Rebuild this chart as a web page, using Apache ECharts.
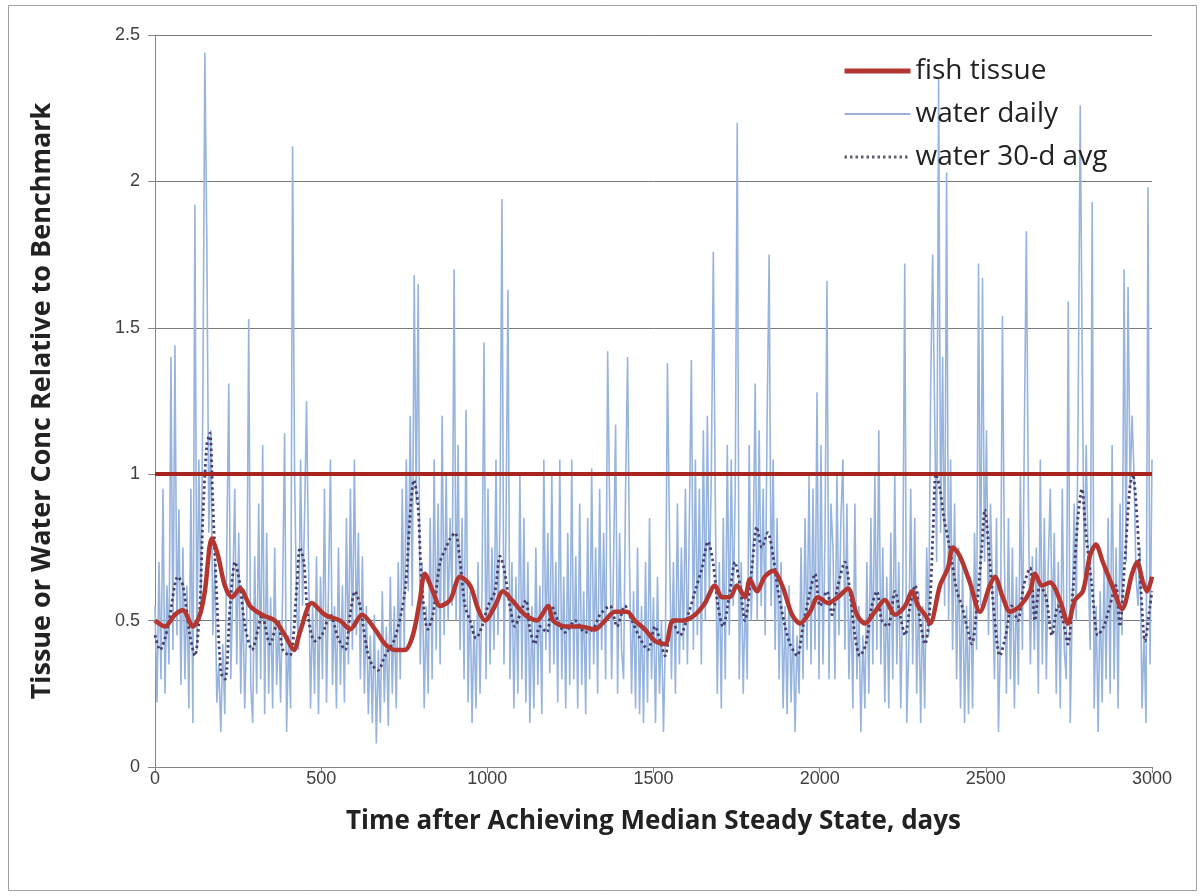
<!DOCTYPE html>
<html>
<head>
<meta charset="UTF-8">
<title>Tissue vs water</title>
<script type="text/javascript" src="https://cdn.jsdelivr.net/npm/echarts@6/dist/echarts.min.js"></script>
<style>
  body{margin:0;background:#fff}
</style>
</head>
<body>
<div id="main" style="width:1202px;height:896px"></div>
<script type="text/javascript">
// water daily, one value every 6 days (0..3000)
var dailyStep = 6;
var waterDaily = [
  0.55,0.22,0.70,0.30,0.95,0.25,0.62,0.35,1.40,0.40,
  1.44,0.45,0.88,0.28,0.75,0.30,0.62,0.20,0.95,0.15,
  1.92,0.40,1.05,0.55,1.25,2.44,1.79,0.80,1.15,0.45,
  0.70,0.22,0.35,0.12,0.42,0.18,0.75,1.31,0.30,0.60,
  0.95,0.35,0.80,0.25,0.60,0.20,0.50,1.53,0.28,0.15,
  0.72,0.25,0.90,0.30,1.10,0.18,0.80,0.25,0.58,0.20,
  0.75,0.28,0.50,0.22,0.60,1.14,0.12,0.45,0.20,2.12,
  1.00,0.55,0.40,1.05,0.55,0.85,1.25,0.70,0.20,0.55,
  0.25,0.72,0.18,0.65,0.30,0.95,0.22,0.60,1.05,0.28,
  0.55,0.20,0.75,0.28,0.62,0.22,0.85,0.35,0.95,0.40,
  1.05,0.45,0.80,0.30,0.72,0.25,0.55,0.18,0.45,0.15,
  0.52,0.08,0.40,0.15,0.60,0.22,0.48,0.14,0.65,0.25,
  0.55,0.20,0.70,0.30,0.95,0.40,1.05,0.60,1.20,0.55,
  1.68,0.90,1.65,0.35,0.70,0.20,0.55,0.25,0.85,0.30,
  1.05,0.40,0.90,0.35,1.20,0.45,1.00,0.50,0.85,0.55,
  1.70,0.50,1.10,0.40,0.85,0.30,1.22,0.22,0.60,0.15,
  0.50,0.20,0.70,0.25,0.60,1.45,0.30,0.95,0.35,0.75,
  0.40,1.05,0.45,0.85,1.94,0.35,0.80,1.63,0.30,0.70,
  0.20,0.65,0.25,1.00,0.30,0.85,0.22,0.70,0.15,0.55,
  0.20,0.75,0.28,0.62,0.18,1.05,0.40,0.80,0.32,1.00,
  0.35,0.70,0.22,1.05,0.30,0.65,0.20,0.80,0.28,1.05,
  0.30,0.72,0.20,0.90,0.28,0.60,0.18,0.85,0.30,1.02,
  0.35,0.75,0.25,0.95,0.40,0.80,0.30,1.42,0.90,0.30,
  0.72,1.17,0.25,0.80,0.40,0.30,0.95,1.40,0.68,0.25,
  0.60,0.20,0.75,0.18,0.55,0.15,0.70,0.22,0.85,0.30,
  0.58,0.15,0.65,0.25,0.50,0.12,0.45,1.38,0.80,0.30,
  0.70,0.25,0.90,0.35,0.75,0.40,0.95,0.35,0.85,1.39,
  0.40,1.05,0.45,0.95,0.35,1.15,0.50,1.20,0.60,1.00,
  1.76,0.90,0.25,0.70,0.20,0.85,0.30,1.10,0.45,1.05,
  0.55,0.95,2.20,0.30,0.70,0.25,0.60,0.30,1.10,0.50,
  0.75,1.31,0.50,1.15,0.55,0.95,0.45,1.20,1.75,0.55,
  1.05,0.40,0.85,0.30,0.70,0.20,0.55,0.18,0.62,0.22,
  0.50,0.12,0.45,0.25,0.75,0.30,0.85,0.40,1.00,0.35,
  0.95,0.40,1.28,0.30,1.10,0.35,0.78,1.66,0.30,0.90,
  0.75,0.30,1.00,0.45,0.85,1.05,0.40,0.90,0.30,0.60,
  0.20,0.90,0.30,0.55,0.12,0.45,0.20,0.70,0.25,0.85,
  0.35,1.00,0.40,1.15,0.35,0.75,0.22,0.65,0.20,0.80,
  0.30,1.00,0.35,0.70,0.20,0.60,1.72,0.15,0.40,0.95,
  0.35,0.85,0.25,0.60,0.15,0.55,0.20,0.75,0.45,1.30,
  1.75,1.20,0.70,2.35,0.80,1.40,0.55,2.03,0.50,1.05,
  0.40,0.90,0.30,0.75,0.20,0.70,0.15,0.55,0.18,0.65,
  0.20,0.80,0.40,1.72,0.55,1.67,0.70,1.15,0.45,0.90,
  0.60,0.30,0.85,0.12,0.45,1.54,0.70,0.25,0.85,0.30,
  0.75,0.20,0.65,0.28,1.00,0.40,1.15,1.83,0.90,0.35,
  0.72,0.40,0.75,0.25,1.05,0.35,0.85,0.30,0.70,0.95,
  0.45,0.80,0.25,0.70,0.20,0.95,0.40,0.30,1.59,0.15,
  0.55,0.90,0.50,1.25,2.26,1.40,0.65,1.10,0.70,0.40,
  1.93,0.20,0.55,0.12,0.60,0.22,0.70,0.30,0.85,0.25,
  1.10,0.30,0.75,0.20,0.90,0.45,1.70,0.70,1.64,0.95,
  1.20,1.00,0.65,0.55,0.75,0.20,0.45,0.15,1.98,0.35,
  1.05
];

var avgDays = [0,15,39,69,84,105,120,135,144,156,
  165,174,187,199,211,226,241,256,271,292,
  310,322,346,370,385,406,427,436,448,460,
  481,502,527,551,572,587,602,617,638,653,
  671,692,722,752,767,779,791,803,821,836,
  858,876,888,903,918,933,948,966,984,1002,
  1023,1038,1050,1068,1083,1098,1116,1128,1143,1158,
  1179,1194,1212,1234,1264,1294,1318,1339,1369,1390,
  1414,1435,1459,1483,1505,1520,1535,1556,1580,1604,
  1625,1646,1664,1679,1694,1709,1730,1745,1760,1775,
  1796,1811,1826,1844,1860,1875,1896,1911,1932,1950,
  1971,1986,2001,2022,2037,2055,2076,2091,2106,2121,
  2139,2157,2172,2187,2205,2227,2242,2257,2272,2287,
  2302,2317,2329,2341,2350,2362,2374,2386,2398,2413,
  2428,2443,2458,2473,2488,2497,2512,2527,2542,2560,
  2578,2596,2614,2633,2648,2663,2681,2699,2717,2732,
  2747,2762,2777,2789,2801,2819,2837,2855,2873,2891,
  2903,2918,2933,2942,2955,2967,2979,2994,3000];
var avgVals = [0.45,0.40,0.48,0.65,0.62,0.45,0.38,0.55,0.85,1.10,
  1.14,0.90,0.55,0.32,0.30,0.55,0.70,0.62,0.48,0.40,
  0.47,0.52,0.42,0.50,0.40,0.38,0.62,0.75,0.70,0.52,
  0.43,0.45,0.52,0.44,0.40,0.52,0.60,0.55,0.40,0.35,
  0.33,0.38,0.44,0.60,0.85,0.98,0.90,0.62,0.47,0.52,
  0.70,0.75,0.78,0.80,0.70,0.55,0.50,0.44,0.48,0.55,
  0.60,0.72,0.68,0.55,0.48,0.52,0.57,0.47,0.42,0.48,
  0.46,0.55,0.50,0.46,0.50,0.46,0.47,0.52,0.55,0.48,
  0.55,0.50,0.44,0.40,0.48,0.43,0.38,0.50,0.45,0.52,
  0.60,0.68,0.77,0.70,0.55,0.48,0.60,0.70,0.62,0.50,
  0.68,0.82,0.75,0.80,0.72,0.60,0.48,0.42,0.38,0.48,
  0.60,0.66,0.55,0.60,0.52,0.62,0.70,0.60,0.45,0.38,
  0.42,0.55,0.60,0.50,0.48,0.60,0.52,0.45,0.55,0.62,
  0.50,0.42,0.50,0.80,1.00,0.95,0.85,0.78,0.70,0.60,
  0.55,0.48,0.42,0.55,0.75,0.88,0.70,0.50,0.38,0.45,
  0.55,0.50,0.62,0.68,0.50,0.62,0.58,0.45,0.55,0.50,
  0.42,0.60,0.85,0.95,0.80,0.62,0.45,0.48,0.55,0.62,
  0.48,0.70,0.95,1.00,0.85,0.60,0.43,0.55,0.60];

var fishDays = [0,30,60,84,114,135,150,171,190,210,
  232,256,286,322,361,391,418,436,472,511,
  557,587,623,662,692,722,752,776,797,812,
  836,858,888,918,948,972,993,1023,1047,1074,
  1113,1149,1183,1198,1234,1279,1324,1354,1384,1420,
  1444,1474,1505,1535,1559,1589,1625,1655,1685,1706,
  1730,1751,1775,1790,1811,1835,1860,1887,1917,1941,
  1971,1995,2025,2055,2085,2112,2136,2166,2196,2227,
  2257,2278,2296,2317,2332,2362,2386,2401,2422,2452,
  2482,2512,2527,2551,2573,2603,2633,2648,2669,2693,
  2723,2747,2768,2792,2813,2831,2852,2880,2910,2940,
  2955,2973,2985,3000];
var fishVals = [0.50,0.48,0.52,0.535,0.48,0.52,0.60,0.78,0.72,0.62,
  0.58,0.61,0.55,0.52,0.50,0.45,0.40,0.46,0.56,0.52,
  0.50,0.47,0.52,0.47,0.42,0.40,0.40,0.45,0.57,0.66,
  0.60,0.55,0.57,0.65,0.62,0.54,0.50,0.55,0.60,0.57,
  0.52,0.50,0.55,0.50,0.48,0.48,0.47,0.50,0.53,0.53,
  0.50,0.47,0.43,0.42,0.50,0.50,0.52,0.56,0.62,0.58,
  0.58,0.62,0.58,0.64,0.60,0.65,0.67,0.62,0.52,0.49,
  0.53,0.58,0.56,0.58,0.61,0.52,0.49,0.53,0.57,0.52,
  0.55,0.60,0.55,0.52,0.49,0.62,0.68,0.75,0.72,0.63,
  0.53,0.62,0.65,0.58,0.53,0.55,0.60,0.66,0.62,0.63,
  0.57,0.49,0.57,0.60,0.72,0.76,0.70,0.62,0.54,0.66,
  0.70,0.63,0.60,0.65];

var benchmark = 1;
var yTicks = ['0','0.5','1','1.5','2','2.5'];

var myChart = echarts.init(document.getElementById('main'), null, {renderer: 'canvas'});
var titleFont = 'Open Sans, Liberation Sans, sans-serif';
var labelFont = 'Liberation Sans, Arial, sans-serif';

var option = {
  animation: false,
  backgroundColor: '#fff',
  graphic: [{
    type: 'rect', z: -10,
    shape: {x: 8.5, y: 5.5, width: 1188, height: 885},
    style: {fill: null, stroke: '#a0a0a0', lineWidth: 1}
  }],
  grid: {left: 155, right: 50, top: 35, bottom: 129},
  legend: {
    orient: 'vertical',
    left: 837, top: 52,
    itemWidth: 66, itemHeight: 14, itemGap: 15,
    itemStyle: {opacity: 0},
    textStyle: {fontSize: 28, color: '#222', fontFamily: titleFont},
    data: [
      {name: 'fish tissue', lineStyle: {width: 5}},
      {name: 'water daily', lineStyle: {width: 1.5, color: '#7f93d0'}},
      {name: 'water 30-d avg', lineStyle: {width: 3, color: '#5f5f70'}}
    ]
  },
  xAxis: {
    type: 'value', min: 0, max: 3000, interval: 500,
    name: 'Time after Achieving Median Steady State, days',
    nameLocation: 'middle', nameGap: 42,
    nameTextStyle: {fontSize: 26, fontWeight: 'bold', color: '#222', fontFamily: titleFont},
    axisLine: {lineStyle: {color: '#868686'}},
    axisTick: {length: 6, lineStyle: {color: '#868686'}},
    axisLabel: {fontSize: 18, color: '#404040', margin: 3, fontFamily: labelFont,
      formatter: function (v) { return String(v); }},
    splitLine: {show: false}
  },
  yAxis: {
    type: 'value', min: 0, max: 2.5, interval: 0.5,
    name: 'Tissue or Water Conc Relative to Benchmark',
    nameLocation: 'middle', nameGap: 99,
    nameTextStyle: {fontSize: 27, fontWeight: 'bold', color: '#222', fontFamily: titleFont},
    axisLine: {show: true, lineStyle: {color: '#868686'}},
    axisTick: {show: true, length: 7, lineStyle: {color: '#868686'}},
    axisLabel: {fontSize: 18, color: '#404040', margin: 15, fontFamily: labelFont,
      formatter: function (v) { return yTicks[Math.round(v * 2)]; }},
    splitLine: {lineStyle: {color: '#7a7a7a', width: 1}}
  },
  series: [
    {
      name: 'water daily', type: 'line', symbol: 'none', z: 2,
      lineStyle: {color: '#97b4de', width: 1.6},
      itemStyle: {color: '#97b4de'},
      data: waterDaily.map(function (v, i) { return [i * dailyStep, v]; })
    },
    {
      name: 'water 30-d avg', type: 'line', symbol: 'none', smooth: 0.3, z: 3,
      lineStyle: {color: '#463f6e', width: 2.8, type: [2.5, 3]},
      itemStyle: {color: '#463f6e'},
      data: avgDays.map(function (d, i) { return [d, avgVals[i]]; })
    },
    {
      name: 'fish tissue', type: 'line', symbol: 'none', smooth: 0.3, z: 4,
      lineStyle: {color: '#b33630', width: 4.5},
      itemStyle: {color: '#b33630'},
      data: fishDays.map(function (d, i) { return [d, fishVals[i]]; }),
      markLine: {
        silent: true, symbol: 'none', label: {show: false},
        lineStyle: {color: '#a8241f', width: 4, type: 'solid'},
        data: [{yAxis: benchmark}]
      }
    }
  ]
};

myChart.setOption(option);
</script>
</body>
</html>
